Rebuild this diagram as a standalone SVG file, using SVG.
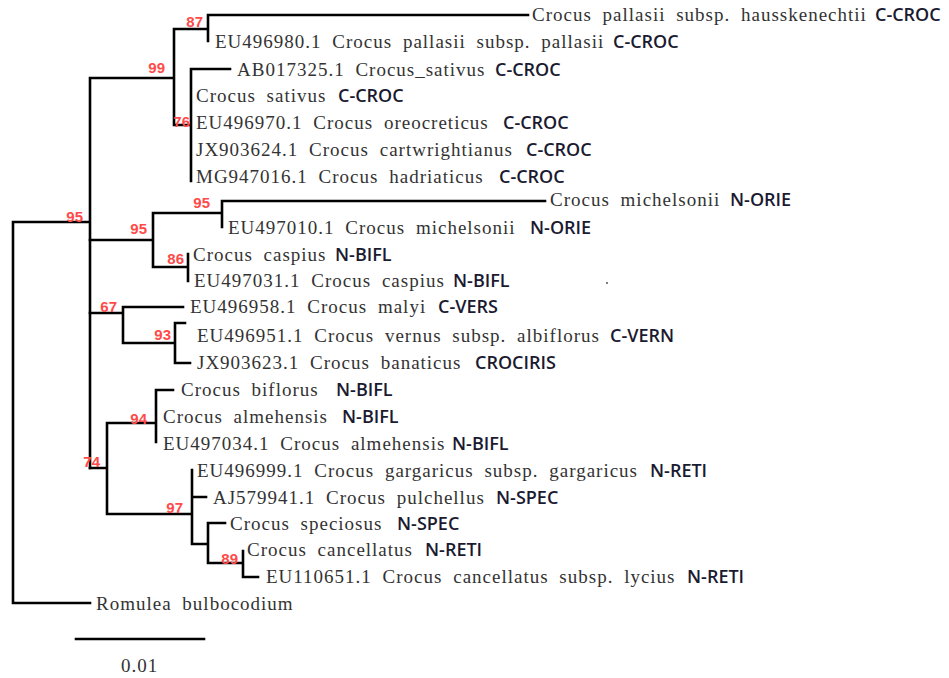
<svg xmlns="http://www.w3.org/2000/svg" width="949" height="678" viewBox="0 0 949 678">
<style>
.br{fill:none;stroke:#000;stroke-width:2.6;stroke-linecap:square}
.sp{font-family:"Liberation Serif",serif;font-size:19px;letter-spacing:1px;word-spacing:5px;fill:#333}
.cl{font-family:"Open Sans","Liberation Sans",sans-serif;font-size:18px;font-weight:600;fill:#1a1a30;letter-spacing:0}
.bs{font-family:"Liberation Sans",sans-serif;font-size:15px;font-weight:bold;fill:#ff4a4a;text-anchor:end}
.sc{font-family:"Liberation Serif",serif;font-size:19px;letter-spacing:1px;fill:#333;text-anchor:middle}
</style>
<rect width="949" height="678" fill="#fff"/>
<g id="connectors">
<path class="br" d="M13,222V603M13,222H90M13,603H90M90,78V468M90,78H174M174,29V125M174,29H208M208,15V41M208,15H528M174,125H191M191,69V181M191,69H230"/>
<path class="br" d="M90,240H153M153,213V267M153,213H222M222,201V227M222,201H545M153,267H188M188,254V281"/>
<path class="br" d="M90,313H123M123,307V343M123,307H183M123,343H175M175,323V363M175,323H185M175,363H190"/>
<path class="br" d="M90,468H107M107,423V514M107,423H156M156,390V442M156,390H173M107,514H192M192,470V544M192,497H206M192,544H208M208,523V563M208,523H225M208,563H243M243,551V577M243,577H258"/>
</g>
<g id="bootstrap">
<text class="bs" x="203" y="27">87</text>
<text class="bs" x="165" y="73">99</text>
<text class="bs" x="190" y="127">76</text>
<text class="bs" x="83" y="222">95</text>
<text class="bs" x="147" y="234">95</text>
<text class="bs" x="210" y="208">95</text>
<text class="bs" x="184" y="264">86</text>
<text class="bs" x="117" y="312">67</text>
<text class="bs" x="171" y="340">93</text>
<text class="bs" x="147" y="424">94</text>
<text class="bs" x="100" y="467">74</text>
<text class="bs" x="183" y="513">97</text>
<text class="bs" x="238" y="564">89</text>
</g>
<g id="tip-hausskenechtii"><text class="sp" x="532" y="21">Crocus pallasii subsp. hausskenechtii</text><text class="cl" x="875" y="21">C-CROC</text></g>
<g id="tip-EU496980"><text class="sp" x="215" y="48">EU496980.1 Crocus pallasii subsp. pallasii</text><text class="cl" x="613" y="48">C-CROC</text></g>
<g id="tip-AB017325"><text class="sp" x="237" y="76">AB017325.1 Crocus_sativus</text><text class="cl" x="495" y="76">C-CROC</text></g>
<g id="tip-sativus"><text class="sp" x="196" y="102">Crocus sativus</text><text class="cl" x="338" y="102">C-CROC</text></g>
<g id="tip-EU496970"><text class="sp" x="196" y="129">EU496970.1 Crocus oreocreticus</text><text class="cl" x="503" y="129">C-CROC</text></g>
<g id="tip-JX903624"><text class="sp" x="196" y="156">JX903624.1 Crocus cartwrightianus</text><text class="cl" x="526" y="156">C-CROC</text></g>
<g id="tip-MG947016"><text class="sp" x="196" y="183">MG947016.1 Crocus hadriaticus</text><text class="cl" x="499" y="183">C-CROC</text></g>
<g id="tip-michelsonii"><text class="sp" x="550" y="206">Crocus michelsonii</text><text class="cl" x="730" y="206">N-ORIE</text></g>
<g id="tip-EU497010"><text class="sp" x="228" y="234">EU497010.1 Crocus michelsonii</text><text class="cl" x="530" y="234">N-ORIE</text></g>
<g id="tip-caspius"><text class="sp" x="193" y="261">Crocus caspius</text><text class="cl" x="335" y="261">N-BIFL</text></g>
<g id="tip-EU497031"><text class="sp" x="194" y="287">EU497031.1 Crocus caspius</text><text class="cl" x="453" y="287">N-BIFL</text></g>
<g id="tip-EU496958"><text class="sp" x="190" y="313">EU496958.1 Crocus malyi</text><text class="cl" x="438" y="313">C-VERS</text></g>
<g id="tip-EU496951"><text class="sp" x="197" y="342">EU496951.1 Crocus vernus subsp. albiflorus</text><text class="cl" x="610" y="342">C-VERN</text></g>
<g id="tip-JX903623"><text class="sp" x="197" y="369">JX903623.1 Crocus banaticus</text><text class="cl" x="475" y="369">CROCIRIS</text></g>
<g id="tip-biflorus"><text class="sp" x="181" y="396">Crocus biflorus</text><text class="cl" x="336" y="396">N-BIFL</text></g>
<g id="tip-almehensis"><text class="sp" x="163" y="423">Crocus almehensis</text><text class="cl" x="342" y="423">N-BIFL</text></g>
<g id="tip-EU497034"><text class="sp" x="163" y="450">EU497034.1 Crocus almehensis</text><text class="cl" x="452" y="450">N-BIFL</text></g>
<g id="tip-EU496999"><text class="sp" x="197" y="477">EU496999.1 Crocus gargaricus subsp. gargaricus</text><text class="cl" x="650" y="477">N-RETI</text></g>
<g id="tip-AJ579941"><text class="sp" x="213" y="504">AJ579941.1 Crocus pulchellus</text><text class="cl" x="496" y="504">N-SPEC</text></g>
<g id="tip-speciosus"><text class="sp" x="230" y="530">Crocus speciosus</text><text class="cl" x="397" y="530">N-SPEC</text></g>
<g id="tip-cancellatus"><text class="sp" x="247" y="556">Crocus cancellatus</text><text class="cl" x="425" y="556">N-RETI</text></g>
<g id="tip-EU110651"><text class="sp" x="266" y="583">EU110651.1 Crocus cancellatus subsp. lycius</text><text class="cl" x="687" y="583">N-RETI</text></g>
<g id="tip-Romulea"><text class="sp" x="96" y="610">Romulea bulbocodium</text></g>
<g id="scale">
<line class="br" x1="76" y1="639" x2="204" y2="639"/>
<text class="sc" x="139.5" y="672">0.01</text>
</g>
<circle cx="607" cy="283" r="1" fill="#555"/>
</svg>
